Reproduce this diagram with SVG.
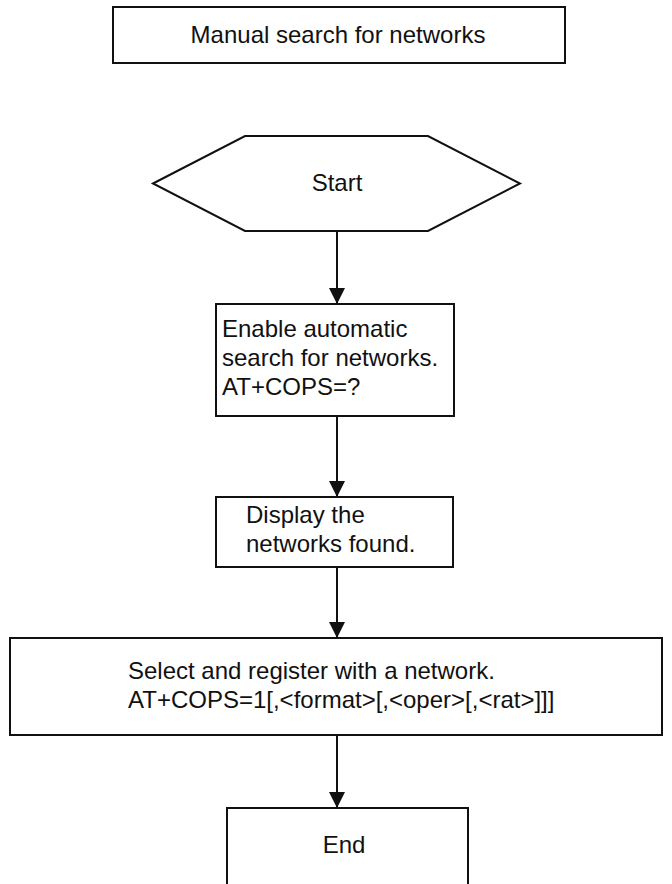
<svg xmlns="http://www.w3.org/2000/svg" width="672" height="884" viewBox="0 0 672 884">
<style>
.box{fill:#fff;stroke:#111;stroke-width:2}
.t{font-family:"Liberation Sans",Arial,sans-serif;font-size:24px;fill:#111}
.c{text-anchor:middle}
.edge{stroke:#111;stroke-width:2;fill:none}
</style>
<defs>
<marker id="arr" markerUnits="userSpaceOnUse" markerWidth="16" markerHeight="16" viewBox="0 0 15 15" refX="15" refY="7.5" orient="auto">
<path d="M0,0 L15,7.5 L0,15 z" fill="#111"/>
</marker>
</defs>
<g id="title">
<rect class="box" x="113" y="7" width="452" height="56"/>
<text class="t c" x="338" y="43">Manual search for networks</text>
</g>
<g id="start">
<polygon class="box" points="153,183.5 245,136 428,136 520,183.5 428,231 245,231"/>
<text class="t c" x="337" y="191">Start</text>
</g>
<g id="enable">
<rect class="box" x="216" y="304" width="238" height="112"/>
<text class="t" x="222" y="337">Enable automatic</text>
<text class="t" x="222" y="366">search for networks.</text>
<text class="t" x="222" y="395">AT+COPS=?</text>
</g>
<g id="display">
<rect class="box" x="216" y="497" width="237" height="70"/>
<text class="t" x="246" y="523">Display the</text>
<text class="t" x="246" y="552">networks found.</text>
</g>
<g id="select">
<rect class="box" x="10" y="638" width="652" height="97"/>
<text class="t" x="128" y="679">Select and register with a network.</text>
<text class="t" x="128" y="708">AT+COPS=1[,&lt;format&gt;[,&lt;oper&gt;[,&lt;rat&gt;]]]</text>
</g>
<g id="end">
<rect class="box" x="227" y="808" width="241" height="90"/>
<text class="t c" x="344" y="853">End</text>
</g>
<g id="connectors">
<line class="edge" x1="337" y1="231" x2="337" y2="304" marker-end="url(#arr)"/>
<line class="edge" x1="337" y1="416" x2="337" y2="497" marker-end="url(#arr)"/>
<line class="edge" x1="337" y1="567" x2="337" y2="638" marker-end="url(#arr)"/>
<line class="edge" x1="337" y1="735" x2="337" y2="808" marker-end="url(#arr)"/>
</g>
</svg>
